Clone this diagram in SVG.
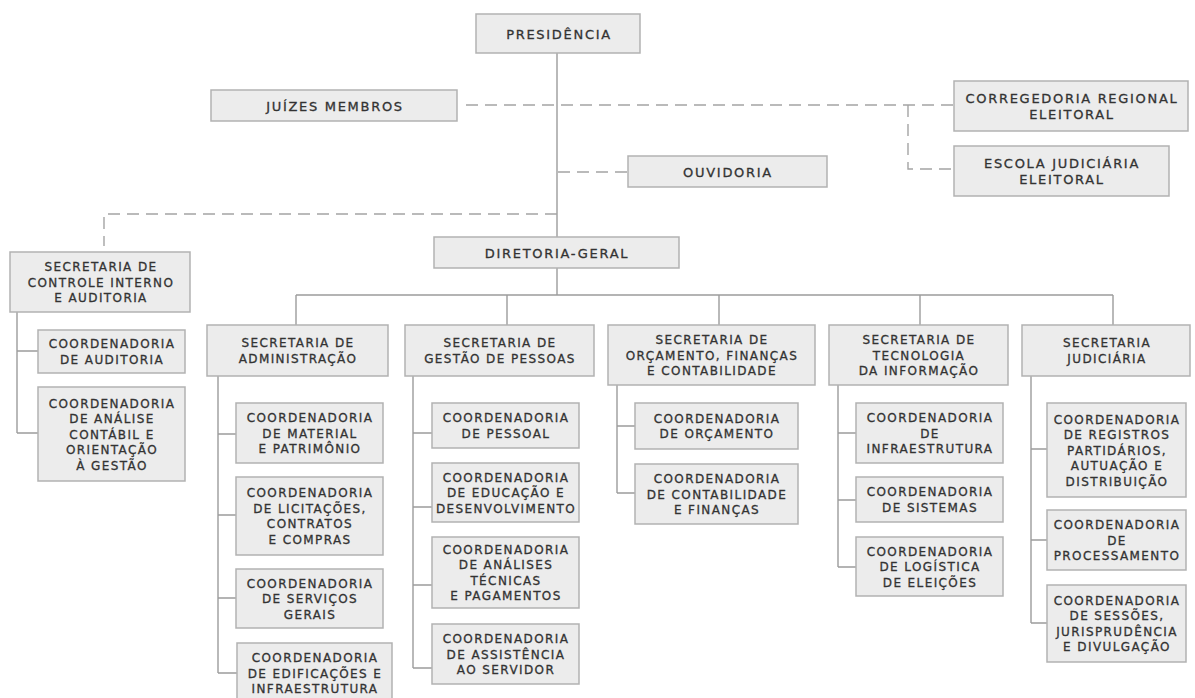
<svg xmlns="http://www.w3.org/2000/svg" width="1195" height="698" viewBox="0 0 1195 698">
<style>
.bx{fill:#ececec;stroke:#b2b2b2;stroke-width:1.5}
.t{font-family:"DejaVu Sans",Verdana,sans-serif;font-size:12px;letter-spacing:1.4px;fill:#333333;stroke:#333333;stroke-width:0.3;text-anchor:middle}
.tt{font-family:"DejaVu Sans",Verdana,sans-serif;font-size:13px;letter-spacing:1.7px;fill:#333333;stroke:#333333;stroke-width:0.3;text-anchor:middle}
.ln{stroke:#9c9c9c;stroke-width:1.4;fill:none}
.ds{stroke:#a4a4a4;stroke-width:1.4;fill:none;stroke-dasharray:12 7}
</style>
<rect width="1195" height="698" fill="#ffffff"/>
<g id="connectors">
<path class="ln" d="M557,53 V237 M557,268 V295 M296,295 H1113 M296,295 V325 M507,295 V325 M719,295 V325 M920,295 V325 M1113,295 V325"/>
<path class="ln" d="M17,312 V433 M17,351 H38 M17,433 H38"/>
<path class="ln" d="M218,376 V673 M218,434 H236 M218,515 H236 M218,598 H236 M218,673 H237"/>
<path class="ln" d="M413,376 V668 M413,433 H432 M413,507 H432 M413,585 H432 M413,668 H432"/>
<path class="ln" d="M617,385 V493 M617,426 H635 M617,493 H635"/>
<path class="ln" d="M838,385 V567 M838,433 H856 M838,500 H856 M838,567 H856"/>
<path class="ln" d="M1031,376 V623 M1031,449 H1047 M1031,540 H1047 M1031,623 H1047"/>
<path class="ds" d="M466,105 H954"/>
<path class="ds" d="M908,105 V169 H954"/>
<path class="ds" d="M558,172 H628"/>
<path class="ds" d="M557,214 H104 V246"/>
</g>
<g id="presidencia"><rect class="bx" x="476" y="14" width="164" height="39"/><text class="tt" x="559" y="38.5">PRESIDÊNCIA</text></g>
<g id="juizes"><rect class="bx" x="211" y="90" width="246" height="31"/><text class="tt" x="335" y="110.5">JUÍZES MEMBROS</text></g>
<g id="corregedoria"><rect class="bx" x="954" y="81" width="234" height="50"/><text class="tt" x="1072" y="103"><tspan x="1072">CORREGEDORIA REGIONAL</tspan><tspan x="1072" dy="15.5">ELEITORAL</tspan></text></g>
<g id="escola"><rect class="bx" x="954" y="146" width="215" height="50"/><text class="tt" x="1062" y="168"><tspan x="1062">ESCOLA JUDICIÁRIA</tspan><tspan x="1062" dy="15.5">ELEITORAL</tspan></text></g>
<g id="ouvidoria"><rect class="bx" x="628" y="156" width="199" height="31"/><text class="tt" x="728" y="176.5">OUVIDORIA</text></g>
<g id="diretoria"><rect class="bx" x="434" y="237" width="245" height="31"/><text class="tt" x="557" y="257.5">DIRETORIA-GERAL</text></g>

<g id="sci"><rect class="bx" x="10" y="252" width="180" height="60"/><text class="t" x="101" y="271"><tspan x="101">SECRETARIA DE</tspan><tspan x="101" dy="15.5">CONTROLE INTERNO</tspan><tspan x="101" dy="15.5">E AUDITORIA</tspan></text></g>
<g id="c-auditoria"><rect class="bx" x="38" y="330" width="147" height="43"/><text class="t" x="112" y="348"><tspan x="112">COORDENADORIA</tspan><tspan x="112" dy="15.5">DE AUDITORIA</tspan></text></g>
<g id="c-analise-contabil"><rect class="bx" x="38" y="387" width="147" height="94"/><text class="t" x="112" y="407.5"><tspan x="112">COORDENADORIA</tspan><tspan x="112" dy="15.5">DE ANÁLISE</tspan><tspan x="112" dy="15.5">CONTÁBIL E</tspan><tspan x="112" dy="15.5">ORIENTAÇÃO</tspan><tspan x="112" dy="15.5">À GESTÃO</tspan></text></g>

<g id="sa"><rect class="bx" x="207" y="325" width="181" height="51"/><text class="t" x="298" y="347"><tspan x="298">SECRETARIA DE</tspan><tspan x="298" dy="15.5">ADMINISTRAÇÃO</tspan></text></g>
<g id="c-material"><rect class="bx" x="236" y="403" width="147" height="60"/><text class="t" x="310" y="422"><tspan x="310">COORDENADORIA</tspan><tspan x="310" dy="15.5">DE MATERIAL</tspan><tspan x="310" dy="15.5">E PATRIMÔNIO</tspan></text></g>
<g id="c-licitacoes"><rect class="bx" x="236" y="477" width="147" height="78"/><text class="t" x="310" y="497"><tspan x="310">COORDENADORIA</tspan><tspan x="310" dy="15.5">DE LICITAÇÕES,</tspan><tspan x="310" dy="15.5">CONTRATOS</tspan><tspan x="310" dy="15.5">E COMPRAS</tspan></text></g>
<g id="c-servicos"><rect class="bx" x="236" y="569" width="147" height="59"/><text class="t" x="310" y="587.5"><tspan x="310">COORDENADORIA</tspan><tspan x="310" dy="15.5">DE SERVIÇOS</tspan><tspan x="310" dy="15.5">GERAIS</tspan></text></g>
<g id="c-edificacoes"><rect class="bx" x="237" y="643" width="155" height="62"/><text class="t" x="315" y="662"><tspan x="315">COORDENADORIA</tspan><tspan x="315" dy="15.5">DE EDIFICAÇÕES E</tspan><tspan x="315" dy="15.5">INFRAESTRUTURA</tspan></text></g>

<g id="sgp"><rect class="bx" x="405" y="325" width="189" height="51"/><text class="t" x="500" y="347"><tspan x="500">SECRETARIA DE</tspan><tspan x="500" dy="15.5">GESTÃO DE PESSOAS</tspan></text></g>
<g id="c-pessoal"><rect class="bx" x="432" y="403" width="147" height="45"/><text class="t" x="506" y="422"><tspan x="506">COORDENADORIA</tspan><tspan x="506" dy="15.5">DE PESSOAL</tspan></text></g>
<g id="c-educacao"><rect class="bx" x="432" y="463" width="147" height="59"/><text class="t" x="506" y="481.5"><tspan x="506">COORDENADORIA</tspan><tspan x="506" dy="15.5">DE EDUCAÇÃO E</tspan><tspan x="506" dy="15.5">DESENVOLVIMENTO</tspan></text></g>
<g id="c-analises"><rect class="bx" x="432" y="537" width="147" height="71"/><text class="t" x="506" y="553.5"><tspan x="506">COORDENADORIA</tspan><tspan x="506" dy="15.5">DE ANÁLISES</tspan><tspan x="506" dy="15.5">TÉCNICAS</tspan><tspan x="506" dy="15.5">E PAGAMENTOS</tspan></text></g>
<g id="c-assistencia"><rect class="bx" x="432" y="624" width="147" height="60"/><text class="t" x="506" y="643"><tspan x="506">COORDENADORIA</tspan><tspan x="506" dy="15.5">DE ASSISTÊNCIA</tspan><tspan x="506" dy="15.5">AO SERVIDOR</tspan></text></g>

<g id="sof"><rect class="bx" x="608" y="325" width="207" height="60"/><text class="t" x="712" y="344"><tspan x="712">SECRETARIA DE</tspan><tspan x="712" dy="15.5">ORÇAMENTO, FINANÇAS</tspan><tspan x="712" dy="15.5">E CONTABILIDADE</tspan></text></g>
<g id="c-orcamento"><rect class="bx" x="635" y="403" width="163" height="46"/><text class="t" x="717" y="422.5"><tspan x="717">COORDENADORIA</tspan><tspan x="717" dy="15.5">DE ORÇAMENTO</tspan></text></g>
<g id="c-contabilidade"><rect class="bx" x="635" y="464" width="163" height="60"/><text class="t" x="717" y="483"><tspan x="717">COORDENADORIA</tspan><tspan x="717" dy="15.5">DE CONTABILIDADE</tspan><tspan x="717" dy="15.5">E FINANÇAS</tspan></text></g>

<g id="sti"><rect class="bx" x="829" y="325" width="179" height="60"/><text class="t" x="919" y="344"><tspan x="919">SECRETARIA DE</tspan><tspan x="919" dy="15.5">TECNOLOGIA</tspan><tspan x="919" dy="15.5">DA INFORMAÇÃO</tspan></text></g>
<g id="c-infraestrutura"><rect class="bx" x="856" y="403" width="147" height="60"/><text class="t" x="930" y="422"><tspan x="930">COORDENADORIA</tspan><tspan x="930" dy="15.5">DE</tspan><tspan x="930" dy="15.5">INFRAESTRUTURA</tspan></text></g>
<g id="c-sistemas"><rect class="bx" x="856" y="477" width="147" height="45"/><text class="t" x="930" y="496"><tspan x="930">COORDENADORIA</tspan><tspan x="930" dy="15.5">DE SISTEMAS</tspan></text></g>
<g id="c-logistica"><rect class="bx" x="856" y="537" width="147" height="59"/><text class="t" x="930" y="555.5"><tspan x="930">COORDENADORIA</tspan><tspan x="930" dy="15.5">DE LOGÍSTICA</tspan><tspan x="930" dy="15.5">DE ELEIÇÕES</tspan></text></g>

<g id="sj"><rect class="bx" x="1022" y="325" width="168" height="51"/><text class="t" x="1107" y="347"><tspan x="1107">SECRETARIA</tspan><tspan x="1107" dy="15.5">JUDICIÁRIA</tspan></text></g>
<g id="c-registros"><rect class="bx" x="1047" y="403" width="139" height="94"/><text class="t" x="1117" y="423.5"><tspan x="1117">COORDENADORIA</tspan><tspan x="1117" dy="15.5">DE REGISTROS</tspan><tspan x="1117" dy="15.5">PARTIDÁRIOS,</tspan><tspan x="1117" dy="15.5">AUTUAÇÃO E</tspan><tspan x="1117" dy="15.5">DISTRIBUIÇÃO</tspan></text></g>
<g id="c-processamento"><rect class="bx" x="1047" y="510" width="139" height="60"/><text class="t" x="1117" y="529"><tspan x="1117">COORDENADORIA</tspan><tspan x="1117" dy="15.5">DE</tspan><tspan x="1117" dy="15.5">PROCESSAMENTO</tspan></text></g>
<g id="c-sessoes"><rect class="bx" x="1047" y="585" width="139" height="77"/><text class="t" x="1117" y="604.5"><tspan x="1117">COORDENADORIA</tspan><tspan x="1117" dy="15.5">DE SESSÕES,</tspan><tspan x="1117" dy="15.5">JURISPRUDÊNCIA</tspan><tspan x="1117" dy="15.5">E DIVULGAÇÃO</tspan></text></g>
</svg>
